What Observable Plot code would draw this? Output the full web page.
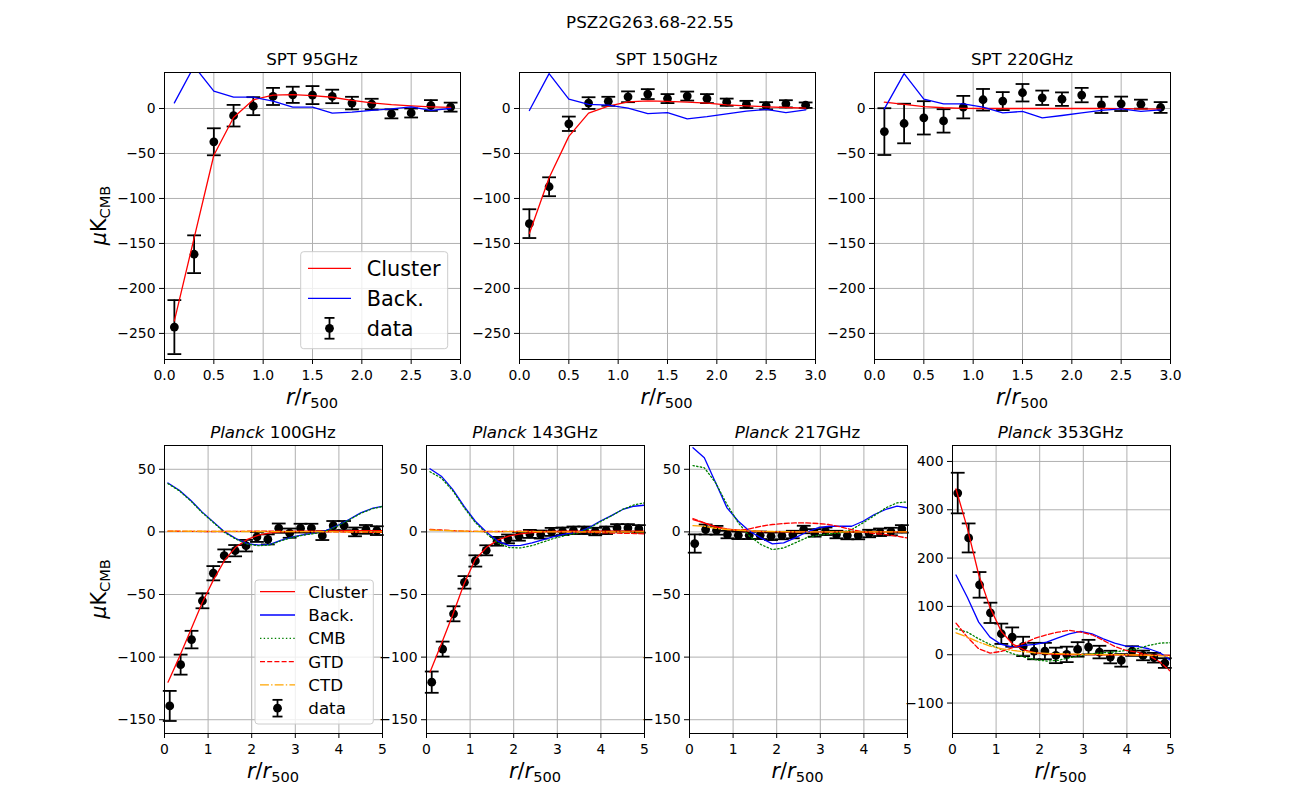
<!DOCTYPE html>
<html><head><meta charset="utf-8">
<script src="https://cdn.jsdelivr.net/npm/d3@7"></script>
<script src="https://cdn.jsdelivr.net/npm/@observablehq/plot@0.6"></script>
<style>
body{margin:0;background:#fff;}
#fig{position:relative;width:1300px;height:800px;overflow:hidden;background:#fff;font-family:"DejaVu Sans",sans-serif;}
</style></head><body><div id="fig"></div>
<script>
// ---------------- data ----------------
const figTitle = "PSZ2G263.68-22.55";
const sptR = [0.1,0.3,0.5,0.7,0.9,1.1,1.3,1.5,1.7,1.9,2.1,2.3,2.5,2.7,2.9];
const planckR = [0.12,0.37,0.62,0.87,1.12,1.37,1.62,1.87,2.12,2.37,2.62,2.87,3.12,3.37,3.62,3.87,4.12,4.37,4.62,4.87];
const planckLineR = [0.08,0.34,0.6,0.86,1.12,1.38,1.64,1.9,2.16,2.42,2.68,2.94,3.2,3.46,3.72,3.98,4.24,4.5,4.76,5.0];

const sptXTicks = [0,0.5,1,1.5,2,2.5,3];
const sptYTicks = [0,-50,-100,-150,-200,-250];
const planckXTicks = [0,1,2,3,4,5];
const planckYTicks = [50,0,-50,-100,-150];
const p353YTicks = [400,300,200,100,0,-100];

// SPT 95 GHz
const spt95Data    = [-243,-162,-37,-8,2.6,13.4,15.2,14.9,13.4,6,4.8,-6,-5,3.3,1.5];
const spt95Err     = [30,21,15,12,10,9.5,9,10,7.5,7,6,5,5,6,5];
const spt95Cluster = [-236,-144,-52,-10,9.7,14.9,15.5,14.4,12.5,9,6.3,4.4,3,1.9,1.2];
const spt95Back    = [6.3,47,19.3,12.6,12.6,8.2,1.5,1.5,-5.2,-4,-2.2,-0.4,1.9,-2.2,0];
// SPT 150 GHz
const spt150Data    = [-128,-87,-17,6,8,13,16,11,13.8,11,7,4.5,3,5.2,3.7];
const spt150Err     = [16,10.5,8,6.5,5,6,5.5,5,5,5,4,4,4,4,3];
const spt150Cluster = [-139,-77,-31,-5.2,2.6,7.4,8.5,7.8,7,6,4,3,1.9,1.1,0.4];
const spt150Back    = [-2.2,38.7,10.4,4.5,3.7,0.4,-5.6,-4.5,-11.5,-9,-6,-3,-1.1,-4.5,-1.5];
// SPT 220 GHz
const spt220Data    = [-25.7,-16.7,-10.4,-13.8,1.5,9.7,8.2,17.5,11.9,10.4,14.9,4,5.2,4.8,1.1];
const spt220Err     = [26,22,18.5,13,12.5,12,10,9.7,8,7.5,8,9,8,5,6];
const spt220Cluster = [7,4.5,2,0.8,0.2,0,0,0,0,0,0,0,-0.2,-0.4,-0.6];
const spt220Back    = [-0.4,38.7,10.4,5.2,5.2,1.5,-4.8,-3.3,-10.4,-7.8,-4.8,-2.2,-0.4,-3.3,-1.5];

// Planck 100 GHz
const p100Data    = [-139,-106,-86,-55,-33,-19,-15,-11,-4,-6,3,-1,3,3,-3,5,5,0,2,1];
const p100Err     = [12,8,7,6,5.7,5,4.5,4.6,4,4,3.7,3.7,3.5,3.5,3.5,3.7,3.7,3.5,3.5,3.5];
const p100Cluster = [-120,-100,-78.5,-57,-38.5,-22.6,-12,-6,-2.6,-0.8,0,0.3,0.5,0.6,0.7,0.8,0.9,1,1,1];
const p100Back    = [39.1,33.3,25.3,16,8,0,-5.3,-9.3,-10.6,-10,-6.6,-4,-2.1,-0.8,1.3,5.3,10.1,15.2,18.7,20.5];
const p100CMB     = [38.5,32.8,24.8,15.5,7.5,-0.5,-5.8,-9.8,-11,-10.4,-7,-4.4,-2.5,-1.2,0.9,4.9,9.7,14.8,18.4,20.3];
const p100GTD     = [0.5,0.5,0.4,0.3,0.3,0.3,0.4,0.5,0.5,0.5,0.5,0.4,0.3,0.2,0.1,0,-0.1,-0.2,-0.3,-0.4];
const p100CTD     = [0.6,0.6,0.5,0.5,0.4,0.4,0.3,0.3,0.3,0.3,0.2,0.2,0.2,0.2,0.2,0.1,0.1,0.1,0.1,0.1];
// Planck 143 GHz
const p143Data    = [-120,-93.6,-65.4,-40.3,-23.2,-14.7,-7.5,-5.6,-3.5,-1.6,-2.1,0,0.5,1.3,1.3,0.3,1.3,3.2,3.2,2.4];
const p143Err     = [8.5,6,6,5,4.5,4,3.5,3.5,3.5,3.2,3.2,3.2,3,3,3,3,3,3,3,3];
const p143Cluster = [-112,-89.6,-66.4,-41.6,-21.9,-12.3,-6.4,-3.2,-1.6,-0.5,0,0.3,0.5,0.5,0.6,0.6,0.6,0.6,0.6,0.6];
const p143Back    = [50.4,44.5,33.9,20.5,8.5,-0.3,-7.5,-10.9,-10.7,-8.8,-6.1,-3.5,-1.6,-0.3,3.2,8.5,13,17.9,20.5,21.3];
const p143CMB     = [48,43,33,19.5,7.5,-1.5,-9,-12.5,-12.8,-11,-8,-5,-2.8,-1,2.5,8,12.8,18,21.5,23.2];
const p143GTD     = [2,1.5,1,0.6,0.4,0.3,0.3,0.4,0.5,0.5,0.4,0.3,0.1,-0.1,-0.3,-0.6,-0.9,-1.1,-1.3,-1.6];
const p143CTD     = [1.5,1.2,0.9,0.6,0.4,0.3,0.2,0.2,0.2,0.2,0.1,0.1,0.1,0,0,0,0,0,0,0];
// Planck 217 GHz
const p217Data    = [-9.3,1.9,1.3,-2.1,-2.7,-2.7,-2.7,-3.5,-2.9,-2.1,1.9,-0.8,0.5,-2.1,-2.9,-2.9,-1.3,-0.3,0.3,2.4];
const p217Err     = [7.3,4,3.5,3,3,3,3,3,3,3,3,3,3,3,3,3,3,3,3,3];
const p217Cluster = [9.9,7.2,4,2.4,1.3,0.6,0.3,0.2,0.1,0,0,0,0,0,0,0,0,0,0,0];
const p217Back    = [67.2,59.2,39.2,19.2,8.5,0.5,-4.8,-9.6,-8.8,-4.8,-0.3,3.2,4.5,4.5,4.5,8.5,13.9,17.9,20.5,19.2];
const p217CMB     = [53,51.2,39.2,21.9,7.2,-3.5,-10.1,-14.1,-12.8,-8.8,-4.8,-2.7,-1.6,-0.8,1.9,7.2,13,19.2,23.2,24];
const p217GTD     = [10.7,7.2,4,1.9,1.3,2.4,4.5,5.9,6.7,7.2,7.2,6.7,5.9,4,1.9,0,-1.3,-2.1,-3.5,-4.8];
const p217CTD     = [5,4.5,2.9,1.9,1.3,0.8,0.5,0.3,0.2,0.1,0,0,0,0,0,0,0,0,0,0];
// Planck 353 GHz
const p353Data    = [334.6,241.7,144.6,86.7,43.4,36.5,17.2,7.6,7.6,-1.4,0.7,11,15.8,5.5,-4.8,-11.7,7.6,-1.4,-6.2,-17.2];
const p353Err     = [42,30,26.5,21,21,20,20,17,17,16,16,15,15,13,13,13,10,10,10,10];
const p353Cluster = [343,262,166,98,48,22,10,4,2,1,0.5,0.3,0.2,0,0,-0.3,-0.5,-0.8,-1,-1.4];
const p353Back    = [165,119,67.5,36.5,21.3,15.8,19.3,21.3,26.2,35.1,43.4,48.2,43.4,33,24.1,17.9,17.2,12.4,4.1,-11.7];
const p353CMB     = [53.7,46.8,33,21.3,11,2.1,-4.8,-10.3,-13.1,-11.7,-6.2,-1.4,2.1,4.1,5.5,9,12.4,19.3,24.1,24.8];
const p353GTD     = [65.4,36.5,12.4,3.4,6.9,14.5,24.1,34.4,41.3,46.8,50.3,46.8,41.3,29.6,17.2,9,5.5,-1.4,-15.1,-34.4];
const p353CTD     = [45.4,36.5,26.2,17.9,12.4,9,6.2,4.1,2.8,2.1,1.5,1,0.7,0.4,0.2,0,-0.5,-1.2,-2.2,-3.4];

// ---------------- styles ----------------
const STY = {
  cluster: {color:"#ff0000", dash:null, label:"Cluster"},
  back:    {color:"#0000ff", dash:null, label:"Back."},
  cmb:     {color:"#008000", dash:"1.4,2.3", label:"CMB"},
  gtd:     {color:"#ff0000", dash:"5,2.2", label:"GTD"},
  ctd:     {color:"#ffa500", dash:"8.9,2.2,1.4,2.2", label:"CTD"}
};
const LW = 1.3;
const capSymbol = {draw(ctx, size){ const w = Math.sqrt(size/Math.PI); ctx.moveTo(-w,0); ctx.lineTo(w,0); }};

const fig = document.getElementById("fig");

function panel(cfg){
  const mL = 70, mR = 14, mT = 8, mB = 34;
  const lr = cfg.lineR || cfg.r;
  const rows = cfg.r.map((x,i)=>({r:x, v:cfg.data[i], lo:cfg.data[i]-cfg.err[i], hi:cfg.data[i]+cfg.err[i]}));
  const lineMarks = cfg.lines.map(L => Plot.line(lr.map((x,i)=>({r:x, v:L.values[i]})),
      {x:"r", y:"v", stroke:L.sty.color, strokeWidth:LW, strokeDasharray:L.sty.dash, clip:true}));
  const svg = Plot.plot({
    width: cfg.w + mL + mR, height: cfg.h + mT + mB,
    marginLeft:mL, marginRight:mR, marginTop:mT, marginBottom:mB,
    x:{domain:cfg.xDomain, ticks:cfg.xTicks, tickFormat:d3.format(cfg.xFmt), tickSize:5, tickPadding:6, label:null},
    y:{domain:cfg.yDomain, ticks:cfg.yTicks, tickFormat:d3.format("d"), tickSize:5, tickPadding:4, label:null},
    style:{fontFamily:"DejaVu Sans", fontSize:"13.9px", color:"black", background:"transparent", overflow:"visible"},
    marks:[
      Plot.ruleX(cfg.xTicks, {stroke:"#b0b0b0", strokeWidth:1}),
      Plot.ruleY(cfg.yTicks, {stroke:"#b0b0b0", strokeWidth:1}),
      Plot.ruleX(rows, {x:"r", y1:"lo", y2:"hi", stroke:"black", strokeWidth:1.8}),
      Plot.dot(rows, {x:"r", y:"lo", symbol:capSymbol, r:6.9, stroke:"black", strokeWidth:1.8, fill:"none"}),
      Plot.dot(rows, {x:"r", y:"hi", symbol:capSymbol, r:6.9, stroke:"black", strokeWidth:1.8, fill:"none"}),
      Plot.dot(rows, {x:"r", y:"v", r:4.4, fill:"black", stroke:"none"}),
      ...lineMarks,
      Plot.frame({stroke:"black", strokeWidth:1})
    ]
  });
  svg.style.position = "absolute";
  svg.style.left = (cfg.left - mL) + "px";
  svg.style.top = (cfg.top - mT) + "px";
  svg.style.maxWidth = "none";
  fig.appendChild(svg);
}

const topY = 72, topH = 287, topW = 296;
const botY = 445, botH = 288, botW = 218;
const sptDom = [-279, 40];
const plDom = [-161, 69];

panel({left:164, top:topY, w:topW, h:topH, xDomain:[0,3], yDomain:sptDom, xTicks:sptXTicks, yTicks:sptYTicks, xFmt:".1f",
  r:sptR, data:spt95Data, err:spt95Err, lines:[{sty:STY.cluster, values:spt95Cluster},{sty:STY.back, values:spt95Back}]});
panel({left:518.5, top:topY, w:topW, h:topH, xDomain:[0,3], yDomain:sptDom, xTicks:sptXTicks, yTicks:sptYTicks, xFmt:".1f",
  r:sptR, data:spt150Data, err:spt150Err, lines:[{sty:STY.cluster, values:spt150Cluster},{sty:STY.back, values:spt150Back}]});
panel({left:874, top:topY, w:topW, h:topH, xDomain:[0,3], yDomain:sptDom, xTicks:sptXTicks, yTicks:sptYTicks, xFmt:".1f",
  r:sptR, data:spt220Data, err:spt220Err, lines:[{sty:STY.cluster, values:spt220Cluster},{sty:STY.back, values:spt220Back}]});

function plLines(c,b,cm,g,ct){ return [{sty:STY.cluster,values:c},{sty:STY.back,values:b},{sty:STY.cmb,values:cm},{sty:STY.gtd,values:g},{sty:STY.ctd,values:ct}]; }
panel({left:164, top:botY, w:botW, h:botH, xDomain:[0,5], yDomain:plDom, xTicks:planckXTicks, yTicks:planckYTicks, xFmt:"d",
  r:planckR, lineR:planckLineR, data:p100Data, err:p100Err, lines:plLines(p100Cluster,p100Back,p100CMB,p100GTD,p100CTD)});
panel({left:426, top:botY, w:botW, h:botH, xDomain:[0,5], yDomain:plDom, xTicks:planckXTicks, yTicks:planckYTicks, xFmt:"d",
  r:planckR, lineR:planckLineR, data:p143Data, err:p143Err, lines:plLines(p143Cluster,p143Back,p143CMB,p143GTD,p143CTD)});
panel({left:688.5, top:botY, w:botW, h:botH, xDomain:[0,5], yDomain:plDom, xTicks:planckXTicks, yTicks:planckYTicks, xFmt:"d",
  r:planckR, lineR:planckLineR, data:p217Data, err:p217Err, lines:plLines(p217Cluster,p217Back,p217CMB,p217GTD,p217CTD)});
panel({left:951.5, top:botY, w:botW, h:botH, xDomain:[0,5], yDomain:[-163,433], xTicks:planckXTicks, yTicks:p353YTicks, xFmt:"d",
  r:planckR, lineR:planckLineR, data:p353Data, err:p353Err, lines:plLines(p353Cluster,p353Back,p353CMB,p353GTD,p353CTD)});

// ---------------- annotation layer (titles, labels, legends) ----------------
const NS = "http://www.w3.org/2000/svg";
const ov = document.createElementNS(NS, "svg");
ov.setAttribute("width", 1300); ov.setAttribute("height", 800);
ov.style.position = "absolute"; ov.style.left = "0"; ov.style.top = "0";
ov.setAttribute("font-family", "DejaVu Sans");
fig.appendChild(ov);
function el(tag, attrs, parent){ const e = document.createElementNS(NS, tag); for (const k in attrs) if (attrs[k] != null) e.setAttribute(k, attrs[k]); (parent||ov).appendChild(e); return e; }
function text(x, y, parts, size, anchor, transform){
  const t = el("text", {x, y, "font-size":size, "text-anchor":anchor||"middle", fill:"black", transform});
  for (const p of parts){
    const s = el("tspan", {"font-style":p.it?"italic":null, "font-size":p.size||null, dy:p.dy||null}, t);
    s.textContent = p.t;
  }
  return t;
}
// figure title
text(650, 28, [{t:figTitle}], 16.7);
// panel titles
const topTitles = ["SPT 95GHz","SPT 150GHz","SPT 220GHz"];
const topCenters = [164+topW/2, 518.5+topW/2, 874+topW/2];
topTitles.forEach((s,i)=>text(topCenters[i], 64.5, [{t:s}], 16.7));
const botFreqs = [" 100GHz"," 143GHz"," 217GHz"," 353GHz"];
const botCenters = [164+botW/2, 426+botW/2, 688.5+botW/2, 951.5+botW/2];
botFreqs.forEach((s,i)=>text(botCenters[i], 437.5, [{t:"Planck", it:true},{t:s}], 16.7));
// x labels
function xlab(cx, y){ text(cx, y, [{t:"r",it:true},{t:"/"},{t:"r",it:true},{t:"500", size:14.6, dy:4}], 20.8); }
topCenters.forEach(c=>xlab(c, 404));
botCenters.forEach(c=>xlab(c, 778));
// y labels
function ylab(cy){ text(0, 0, [{t:"μ",it:true},{t:"K"},{t:"CMB", size:14.6, dy:4}], 20.8, "middle", `translate(106,${cy}) rotate(-90)`); }
ylab(topY + topH/2);
ylab(botY + botH/2);

// legends
function legend(box, entries, fs, rowH, y0, swX0, swX1, txtX){
  el("rect", {x:box[0], y:box[1], width:box[2], height:box[3], rx:3, fill:"white", "fill-opacity":0.8, stroke:"#cccccc", "stroke-width":1});
  entries.forEach((e,i)=>{
    const cy = y0 + i*rowH;
    if (e.sty){
      el("line", {x1:swX0, x2:swX1, y1:cy, y2:cy, stroke:e.sty.color, "stroke-width":LW, "stroke-dasharray":e.sty.dash});
      text(txtX, cy + fs*0.36, [{t:e.sty.label}], fs, "start");
    } else {
      const cx = (swX0+swX1)/2, hh = fs*0.5;
      el("line", {x1:cx, x2:cx, y1:cy-hh, y2:cy+hh, stroke:"black", "stroke-width":1.8});
      el("line", {x1:cx-5, x2:cx+5, y1:cy-hh, y2:cy-hh, stroke:"black", "stroke-width":1.8});
      el("line", {x1:cx-5, x2:cx+5, y1:cy+hh, y2:cy+hh, stroke:"black", "stroke-width":1.8});
      el("circle", {cx, cy, r:4.4, fill:"black"});
      text(txtX, cy + fs*0.36, [{t:"data"}], fs, "start");
    }
  });
}
legend([300.7,251.7,147,97], [{sty:STY.cluster},{sty:STY.back},{}], 20.8, 30, 268.3, 308, 351, 366.7);
legend([255,580,118.3,144], [{sty:STY.cluster},{sty:STY.back},{sty:STY.cmb},{sty:STY.gtd},{sty:STY.ctd},{}], 16.7, 23.3, 591.7, 260, 295, 308.3);
</script></body></html>
